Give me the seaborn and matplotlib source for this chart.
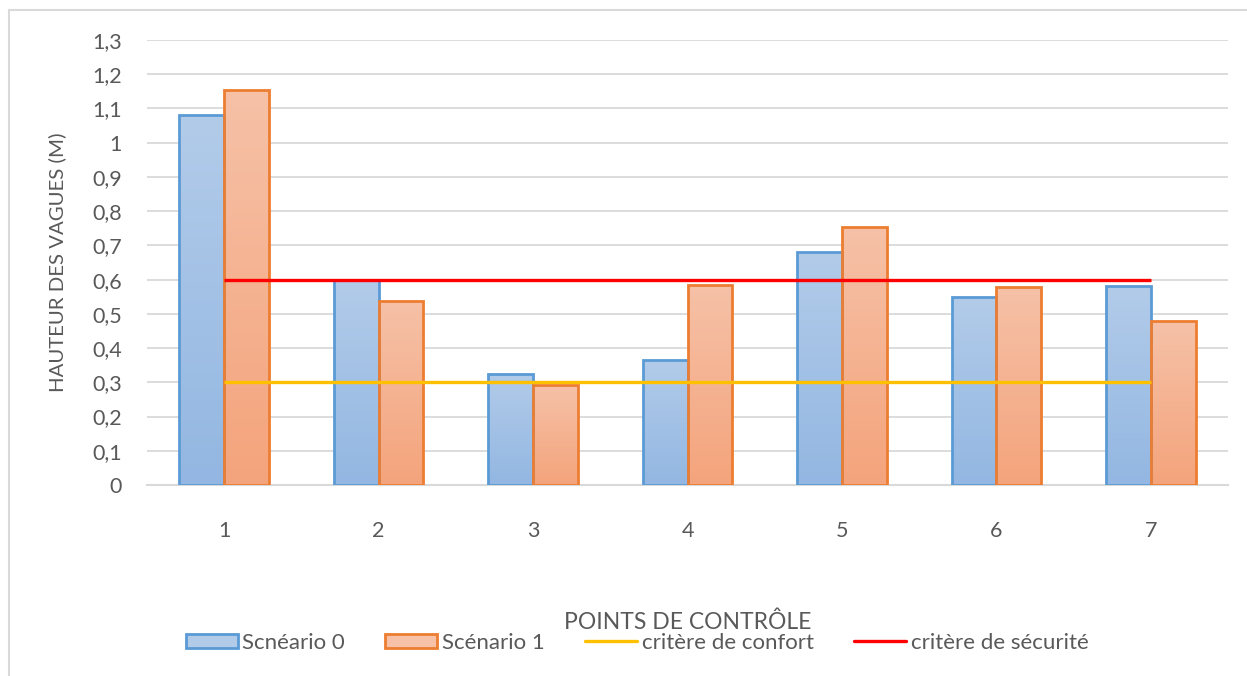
import numpy as np
import pandas as pd
import matplotlib
matplotlib.use("Agg")
import matplotlib.pyplot as plt
from matplotlib.patches import Patch, Rectangle
from matplotlib.lines import Line2D
from matplotlib.colors import LinearSegmentedColormap
import seaborn as sns

# Wave heights at each control point
points = ["1", "2", "3", "4", "5", "6", "7"]
scenario_0 = [1.08, 0.60, 0.325, 0.365, 0.68, 0.55, 0.58]
scenario_1 = [1.155, 0.538, 0.292, 0.583, 0.755, 0.577, 0.478]
series_names = ["Scnéario 0", "Scénario 1"]

# Threshold criteria
comfort_level = 0.3
safety_level = 0.6
criteria_names = ["critère de confort", "critère de sécurité"]

y_ticks = [0, 0.1, 0.2, 0.3, 0.4, 0.5, 0.6, 0.7, 0.8, 0.9, 1.0, 1.1, 1.2, 1.3]
y_tick_labels = ["0", "0,1", "0,2", "0,3", "0,4", "0,5", "0,6", "0,7", "0,8",
                 "0,9", "1", "1,1", "1,2", "1,3"]

x_title = "POINTS DE CONTRÔLE"
y_title = "HAUTEUR DES VAGUES (M)"

df = pd.DataFrame({
    "point": points * 2,
    "hauteur": scenario_0 + scenario_1,
    "scenario": [series_names[0]] * len(points) + [series_names[1]] * len(points),
})

sns.set_theme(style="white")
plt.rcParams["font.family"] = ["Lato", "DejaVu Sans"]
text_color = "#595959"
grid_color = "#d9d9d9"
tick_fs = 15.5
legend_fs = 16

blue_edge = "#5b9bd5"
orange_edge = "#ed7d31"
blue_grad = ("#93b7e2", "#b2cbe9")      # bottom -> top
orange_grad = ("#f4a47c", "#f6c1a7")
comfort_color = "#ffc000"
safety_color = "#ff0000"

fig = plt.figure(figsize=(12.47, 6.76), dpi=100)
ax = fig.add_axes([147 / 1247, 1 - 485 / 676, (1228 - 147) / 1247, (485 - 40) / 676])

sns.barplot(data=df, x="point", y="hauteur", hue="scenario", order=points,
            hue_order=series_names, width=0.58, palette=[blue_edge, orange_edge],
            ax=ax, legend=False, zorder=3)

# Gradient fills clipped to each bar, with the solid outline kept on top
for container, edge, grad in zip(ax.containers, [blue_edge, orange_edge],
                                 [blue_grad, orange_grad]):
    cmap = LinearSegmentedColormap.from_list("g", list(grad))
    for bar in container:
        x0, y0 = bar.get_x(), bar.get_y()
        w, h = bar.get_width(), bar.get_height()
        bar.set_facecolor("none")
        bar.set_edgecolor(edge)
        bar.set_linewidth(2.0)
        bar.set_zorder(4)
        img = ax.imshow(np.linspace(0, 1, 64).reshape(-1, 1), cmap=cmap,
                        origin="lower", extent=(x0, x0 + w, y0, y0 + h),
                        aspect="auto", zorder=3, interpolation="bicubic")
        img.set_clip_path(bar)

ax.set_xlim(-0.5, len(points) - 0.5)
ax.set_ylim(0, 1.3)

# Threshold lines from the first to the last control point
xs = np.arange(len(points))
ax.plot(xs[[0, -1]], [comfort_level, comfort_level], color=comfort_color,
        lw=2.4, zorder=5, solid_capstyle="butt")
ax.plot(xs[[0, -1]], [safety_level, safety_level], color=safety_color,
        lw=2.4, zorder=5, solid_capstyle="butt")

ax.set_yticks(y_ticks)
ax.set_yticklabels(y_tick_labels)
ax.yaxis.grid(True, color=grid_color, lw=1.3, zorder=0)
ax.xaxis.grid(False)
ax.set_axisbelow(True)
for side in ["left", "right", "top"]:
    ax.spines[side].set_visible(False)
ax.spines["bottom"].set_color(grid_color)
ax.spines["bottom"].set_linewidth(1.5)
ax.tick_params(axis="y", length=0, pad=18, labelsize=tick_fs, labelcolor=text_color)
ax.tick_params(axis="x", length=0, pad=26, labelsize=tick_fs, labelcolor=text_color)

ax.set_xlabel(x_title, fontsize=16.5, color=text_color, va="center")
ax.xaxis.set_label_coords(0.5, (485 - 622) / 445)
ax.set_ylabel(y_title, fontsize=14.7, color=text_color, va="center")
ax.yaxis.set_label_coords((57 - 147) / 1081, 0.5)

handles = [
    Patch(facecolor=blue_grad[1], edgecolor=blue_edge, lw=2.0),
    Patch(facecolor=orange_grad[1], edgecolor=orange_edge, lw=2.0),
    Line2D([0], [0], color=comfort_color, lw=2.4),
    Line2D([0], [0], color=safety_color, lw=2.4),
]
fig.legend(handles, series_names + criteria_names, loc="center",
           bbox_to_anchor=(637 / 1247, 1 - 643 / 676), ncol=4, frameon=False,
           fontsize=legend_fs, labelcolor=text_color, handlelength=2.34,
           handleheight=0.62, handletextpad=0.22, columnspacing=1.8)

# Chart area border
fig.patches.append(Rectangle((9 / 1247, -0.01), 1.0, 1 - 10 / 676 + 0.01,
                             transform=fig.transFigure, fill=False,
                             edgecolor=grid_color, lw=1.5))

fig.savefig("out.png", dpi=100, facecolor="white")
